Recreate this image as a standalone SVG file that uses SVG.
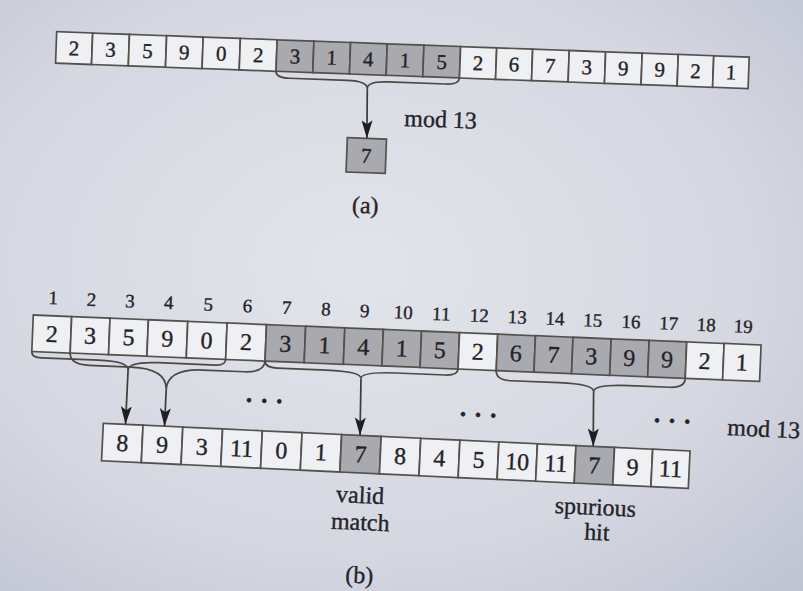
<svg xmlns="http://www.w3.org/2000/svg" width="803" height="591" viewBox="0 0 803 591">
<defs>
  <radialGradient id="bg" cx="0.45" cy="0.45" r="0.8">
    <stop offset="0" stop-color="#e2e4ea"/>
    <stop offset="0.6" stop-color="#d5d8e1"/>
    <stop offset="1" stop-color="#bec2d1"/>
  </radialGradient>
  <marker id="ah" viewBox="0 0 18 11" refX="18" refY="5.5" markerWidth="18" markerHeight="11" markerUnits="userSpaceOnUse" orient="auto">
    <path d="M0,0 L18,5.5 L0,11 L4,5.5 Z" fill="#1f1e22"/>
  </marker>
</defs>
<style>
  .c rect { fill:#eef0f3; stroke:#55504b; stroke-width:1.7; }
  .g rect { fill:#a9aaaf; }
  text { font-family:"Liberation Serif","Times New Roman",serif; fill:#242328; stroke:#242328; stroke-width:0.35; }
  .da { font-size:21px; text-anchor:middle; }
  .db { font-size:24px; text-anchor:middle; }
  .ix { font-size:19px; text-anchor:middle; }
  .lb { font-size:24px; }
  .lm { font-size:24px; text-anchor:middle; }
  .dots { font-size:26px; font-weight:bold; text-anchor:middle; }
  .br { fill:none; stroke:#4d4843; stroke-width:1.7; }
  .ar { fill:none; stroke:#3f3b37; stroke-width:1.7; marker-end:url(#ah); }
</style>
<rect x="0" y="0" width="803" height="591" fill="url(#bg)"/>

<!-- Part (a) -->
<g id="part-a" transform="translate(56.7,31.7) rotate(2.1)">
  <g id="a1" class="c"><rect x="0" y="0" width="36" height="31.5"/><text class="da" x="18" y="23">2</text></g>
  <g id="a2" class="c"><rect x="36" y="0" width="36.8" height="31.5"/><text class="da" x="54.4" y="23">3</text></g>
  <g id="a3" class="c"><rect x="72.8" y="0" width="37.2" height="31.5"/><text class="da" x="91.4" y="23">5</text></g>
  <g id="a4" class="c"><rect x="110" y="0" width="36.6" height="31.5"/><text class="da" x="128.3" y="23">9</text></g>
  <g id="a5" class="c"><rect x="146.6" y="0" width="37.2" height="31.5"/><text class="da" x="165.2" y="23">0</text></g>
  <g id="a6" class="c"><rect x="183.8" y="0" width="36.8" height="31.5"/><text class="da" x="202.2" y="23">2</text></g>
  <g id="a7" class="c g"><rect x="220.6" y="0" width="36.8" height="31.5"/><text class="da" x="239" y="23">3</text></g>
  <g id="a8" class="c g"><rect x="257.4" y="0" width="36.7" height="31.5"/><text class="da" x="275.75" y="23">1</text></g>
  <g id="a9" class="c g"><rect x="294.1" y="0" width="36.7" height="31.5"/><text class="da" x="312.45" y="23">4</text></g>
  <g id="a10" class="c g"><rect x="330.8" y="0" width="36.7" height="31.5"/><text class="da" x="349.15" y="23">1</text></g>
  <g id="a11" class="c g"><rect x="367.5" y="0" width="36.7" height="31.5"/><text class="da" x="385.85" y="23">5</text></g>
  <g id="a12" class="c"><rect x="404.2" y="0" width="36.1" height="31.5"/><text class="da" x="422.25" y="23">2</text></g>
  <g id="a13" class="c"><rect x="440.3" y="0" width="36" height="31.5"/><text class="da" x="458.3" y="23">6</text></g>
  <g id="a14" class="c"><rect x="476.3" y="0" width="36.6" height="31.5"/><text class="da" x="494.6" y="23">7</text></g>
  <g id="a15" class="c"><rect x="512.9" y="0" width="36.4" height="31.5"/><text class="da" x="531.1" y="23">3</text></g>
  <g id="a16" class="c"><rect x="549.3" y="0" width="36.6" height="31.5"/><text class="da" x="567.6" y="23">9</text></g>
  <g id="a17" class="c"><rect x="585.9" y="0" width="36.1" height="31.5"/><text class="da" x="603.95" y="23">9</text></g>
  <g id="a18" class="c"><rect x="622" y="0" width="35.5" height="31.5"/><text class="da" x="639.75" y="23">2</text></g>
  <g id="a19" class="c"><rect x="657.5" y="0" width="35.5" height="31.5"/><text class="da" x="675.25" y="23">1</text></g>
  <g id="a-result" class="c g"><rect x="294.3" y="95.2" width="39.2" height="34.4"/><text class="da" x="313.9" y="119.7">7</text></g>
  <g id="a-labels">
    <text class="lb" x="350.5" y="81.5">mod 13</text>
    <text class="lm" x="314.7" y="170">(a)</text>
  </g>
</g>

<!-- Part (b) text array -->
<g id="part-b-text" transform="translate(33.3,315) rotate(2.36)">
  <g id="b-index">
    <text class="ix" x="19.2" y="-11.5">1</text>
    <text class="ix" x="57.6" y="-11.5">2</text>
    <text class="ix" x="96" y="-11.5">3</text>
    <text class="ix" x="134.9" y="-11.5">4</text>
    <text class="ix" x="174.3" y="-11.5">5</text>
    <text class="ix" x="213.7" y="-11.5">6</text>
    <text class="ix" x="253" y="-11.5">7</text>
    <text class="ix" x="292.2" y="-11.5">8</text>
    <text class="ix" x="331.1" y="-11.5">9</text>
    <text class="ix" x="369.5" y="-11.5">10</text>
    <text class="ix" x="407.6" y="-11.5">11</text>
    <text class="ix" x="445.7" y="-11.5">12</text>
    <text class="ix" x="483.7" y="-11.5">13</text>
    <text class="ix" x="521.4" y="-11.5">14</text>
    <text class="ix" x="559.3" y="-11.5">15</text>
    <text class="ix" x="597.4" y="-11.5">16</text>
    <text class="ix" x="635.2" y="-11.5">17</text>
    <text class="ix" x="672.7" y="-11.5">18</text>
    <text class="ix" x="709.9" y="-11.5">19</text>
  </g>
  <g id="b1" class="c"><rect x="0" y="0" width="38.4" height="36.5"/><text class="db" x="19.2" y="26.3">2</text></g>
  <g id="b2" class="c"><rect x="38.4" y="0" width="38.4" height="36.5"/><text class="db" x="57.6" y="26.3">3</text></g>
  <g id="b3" class="c"><rect x="76.8" y="0" width="38.4" height="36.5"/><text class="db" x="96" y="26.3">5</text></g>
  <g id="b4" class="c"><rect x="115.2" y="0" width="39.4" height="36.5"/><text class="db" x="134.9" y="26.3">9</text></g>
  <g id="b5" class="c"><rect x="154.6" y="0" width="39.4" height="36.5"/><text class="db" x="174.3" y="26.3">0</text></g>
  <g id="b6" class="c"><rect x="194" y="0" width="39.4" height="36.5"/><text class="db" x="213.7" y="26.3">2</text></g>
  <g id="b7" class="c g"><rect x="233.4" y="0" width="39.2" height="36.5"/><text class="db" x="253" y="26.3">3</text></g>
  <g id="b8" class="c g"><rect x="272.6" y="0" width="39.2" height="36.5"/><text class="db" x="292.2" y="26.3">1</text></g>
  <g id="b9" class="c g"><rect x="311.8" y="0" width="38.6" height="36.5"/><text class="db" x="331.1" y="26.3">4</text></g>
  <g id="b10" class="c g"><rect x="350.4" y="0" width="38.2" height="36.5"/><text class="db" x="369.5" y="26.3">1</text></g>
  <g id="b11" class="c g"><rect x="388.6" y="0" width="38" height="36.5"/><text class="db" x="407.6" y="26.3">5</text></g>
  <g id="b12" class="c"><rect x="426.6" y="0" width="38.2" height="36.5"/><text class="db" x="445.7" y="26.3">2</text></g>
  <g id="b13" class="c g"><rect x="464.8" y="0" width="37.8" height="36.5"/><text class="db" x="483.7" y="26.3">6</text></g>
  <g id="b14" class="c g"><rect x="502.6" y="0" width="37.6" height="36.5"/><text class="db" x="521.4" y="26.3">7</text></g>
  <g id="b15" class="c g"><rect x="540.2" y="0" width="38.2" height="36.5"/><text class="db" x="559.3" y="26.3">3</text></g>
  <g id="b16" class="c g"><rect x="578.4" y="0" width="38" height="36.5"/><text class="db" x="597.4" y="26.3">9</text></g>
  <g id="b17" class="c g"><rect x="616.4" y="0" width="37.6" height="36.5"/><text class="db" x="635.2" y="26.3">9</text></g>
  <g id="b18" class="c"><rect x="654" y="0" width="37.4" height="36.5"/><text class="db" x="672.7" y="26.3">2</text></g>
  <g id="b19" class="c"><rect x="691.4" y="0" width="37" height="36.5"/><text class="db" x="709.9" y="26.3">1</text></g>
</g>

<!-- Part (b) hash array -->
<g id="part-b-hash" transform="translate(103.3,423.3) rotate(2.7)">
  <g id="h1" class="c"><rect x="0" y="0" width="39.8" height="37.5"/><text class="db" x="19.9" y="26.8">8</text></g>
  <g id="h2" class="c"><rect x="39.8" y="0" width="39.8" height="37.5"/><text class="db" x="59.7" y="26.8">9</text></g>
  <g id="h3" class="c"><rect x="79.6" y="0" width="39.8" height="37.5"/><text class="db" x="99.5" y="26.8">3</text></g>
  <g id="h4" class="c"><rect x="119.4" y="0" width="39.8" height="37.5"/><text class="db" x="139.3" y="26.8">11</text></g>
  <g id="h5" class="c"><rect x="159.2" y="0" width="39.8" height="37.5"/><text class="db" x="179.1" y="26.8">0</text></g>
  <g id="h6" class="c"><rect x="199" y="0" width="39.6" height="37.5"/><text class="db" x="218.8" y="26.8">1</text></g>
  <g id="h7" class="c g"><rect x="238.6" y="0" width="39.6" height="37.5"/><text class="db" x="258.4" y="26.8">7</text></g>
  <g id="h8" class="c"><rect x="278.2" y="0" width="39.6" height="37.5"/><text class="db" x="298" y="26.8">8</text></g>
  <g id="h9" class="c"><rect x="317.8" y="0" width="39.2" height="37.5"/><text class="db" x="337.4" y="26.8">4</text></g>
  <g id="h10" class="c"><rect x="357" y="0" width="39" height="37.5"/><text class="db" x="376.5" y="26.8">5</text></g>
  <g id="h11" class="c"><rect x="396" y="0" width="38.6" height="37.5"/><text class="db" x="415.3" y="26.8">10</text></g>
  <g id="h12" class="c"><rect x="434.6" y="0" width="38.6" height="37.5"/><text class="db" x="453.9" y="26.8">11</text></g>
  <g id="h13" class="c g"><rect x="473.2" y="0" width="38.6" height="37.5"/><text class="db" x="492.5" y="26.8">7</text></g>
  <g id="h14" class="c"><rect x="511.8" y="0" width="38.2" height="37.5"/><text class="db" x="530.9" y="26.8">9</text></g>
  <g id="h15" class="c"><rect x="550" y="0" width="37.4" height="37.5"/><text class="db" x="568.7" y="26.8">11</text></g>
  <g id="b-labels">
    <text class="dots" x="159.6" y="-21.5">· · ·</text>
    <text class="dots" x="374" y="-17.5">· · ·</text>
    <text class="dots" x="568" y="-20.5">· · ·</text>
    <text class="lb" x="623.6" y="-17.7">mod 13</text>
    <text class="lm" x="260" y="67.5">valid</text>
    <text class="lm" x="261.4" y="94.5">match</text>
    <text class="lm" x="495.5" y="68.4">spurious</text>
    <text class="lm" x="498.2" y="93.4">hit</text>
    <text class="lm" x="263" y="147.5">(b)</text>
  </g>
</g>

<!-- Connectors -->
<g id="connectors">
  <path class="br" transform="translate(56.7,31.7) rotate(2.1)" d="M220.6,31.5 Q220.6,38 234,38 L292,38 Q312.4,38 312.4,45.5 Q312.4,38 332.8,38 L390.8,38 Q404.2,38 404.2,31.5"/>
  <g transform="translate(33.3,315) rotate(2.36)">
    <path class="br" d="M0,36.5 Q0,42.5 10,42.5 L67,42.5 Q97,42.5 97,51 Q97,42.5 127,42.5 L184,42.5 Q194,42.5 194,36.5"/>
    <path class="br" d="M38.4,36.5 Q38.4,48 58,48 L100,48 Q135.9,48 135.9,69.5 Q135.9,48 172,48 L213,48 Q233.4,48 233.4,36.5"/>
    <path class="br" d="M233.4,36.5 Q233.4,43 246,43 L295,43 Q330,43 330,50 Q330,43 365,43 L414,43 Q426.6,43 426.6,36.5"/>
    <path class="br" d="M464.8,36.5 Q464.8,46 480,46 L528,46 Q563,46 563,53.5 Q563,46 598,46 L639,46 Q654,46 654,36.5"/>
  </g>
  <path class="ar" d="M367.3,88.4 L366.9,138.3"/>
  <path class="ar" d="M128.1,370 L125.5,424.3"/>
  <path class="ar" d="M166.2,390 L164.5,426.2"/>
  <path class="ar" d="M361,378.5 L360,435.4"/>
  <path class="ar" d="M593.6,391.6 L593.2,446.4"/>
</g>
</svg>
